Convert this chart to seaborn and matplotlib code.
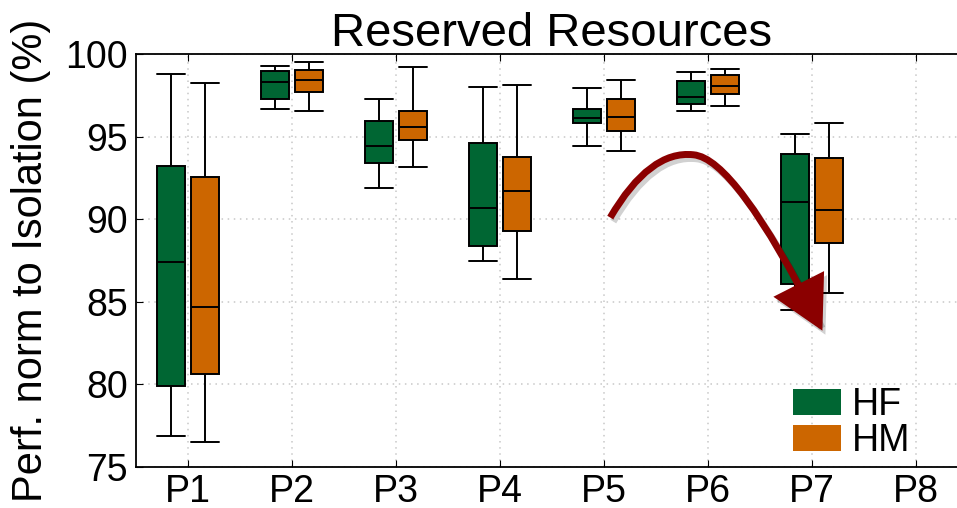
import numpy as np
import pandas as pd
import matplotlib
matplotlib.use("Agg")
import matplotlib.pyplot as plt
import matplotlib.transforms as mtransforms
import seaborn as sns
from matplotlib.patches import Patch, FancyArrowPatch
from matplotlib.path import Path

# five-number summaries: min, q1, median, q3, max
groups = ["P1", "P2", "P3", "P4", "P5", "P6", "P7", "P8"]
hf = [
    [76.9, 79.9, 87.4, 93.2, 98.8],
    [96.7, 97.3, 98.3, 99.0, 99.3],
    [91.9, 93.4, 94.45, 95.95, 97.25],
    [87.5, 88.4, 90.65, 94.6, 98.0],
    [94.45, 95.8, 96.15, 96.65, 97.95],
    [96.55, 96.95, 97.4, 98.35, 98.9],
    [84.5, 86.1, 91.05, 93.95, 95.15],
]
hm = [
    [76.5, 80.6, 84.7, 92.55, 98.25],
    [96.55, 97.7, 98.4, 99.05, 99.5],
    [93.15, 94.8, 95.6, 96.55, 99.2],
    [86.4, 89.3, 91.7, 93.75, 98.1],
    [94.15, 95.35, 96.2, 97.3, 98.45],
    [96.85, 97.6, 98.05, 98.75, 99.1],
    [85.55, 88.55, 90.55, 93.7, 95.8],
]
series = ["HF", "HM"]
colors = {"HF": "#006633", "HM": "#cc6600"}

rows = []
for name, vals in zip(series, [hf, hm]):
    for g, v in zip(groups, vals):
        for x in v:
            rows.append((g, name, x))
df = pd.DataFrame(rows, columns=["group", "config", "perf"])

sns.set_style("ticks")
plt.rcParams["font.family"] = ["Liberation Sans", "DejaVu Sans"]
plt.rcParams.update({"text.color": "black", "axes.labelcolor": "black",
                     "xtick.color": "black", "ytick.color": "black"})

fig = plt.figure(figsize=(9.57, 5.08), dpi=100)
ax = fig.add_axes([136 / 957, 41 / 508, 832 / 957, 413 / 508])

sns.boxplot(data=df, x="group", y="perf", hue="config", order=groups,
            hue_order=series, palette=colors, saturation=1, whis=(0, 100),
            width=0.66, gap=0.2, linecolor="black", linewidth=1.4,
            capwidths=0.264, legend=False, ax=ax)

ax.set_xlim(-0.5, 7.5)
ax.set_ylim(75, 100)
ax.set_yticks(np.arange(75, 101, 5))
ax.set_xlabel("")
ax.set_ylabel("Perf. norm to Isolation (%)", fontsize=30, labelpad=10)
ax.set_title("Reserved Resources", fontsize=34, pad=6)
ax.tick_params(axis="x", labelsize=27, direction="in", top=True, length=5, pad=5)
ax.tick_params(axis="y", labelsize=27, direction="in", length=5, pad=6)
ax.grid(True, linestyle=(0, (1, 3)), color="#c8c8c8", linewidth=1.1)
ax.set_axisbelow(True)
for s in ax.spines.values():
    s.set_linewidth(1.3)
    s.set_color("black")

# curved annotation arrow with a soft drop shadow
verts = [(4.06, 90.1), (4.44, 94.2), (4.86, 93.9), (5.26, 93.7), (6.1, 83.25)]
codes = [Path.MOVETO, Path.CURVE3, Path.CURVE3, Path.CURVE3, Path.CURVE3]
shadow_tr = mtransforms.offset_copy(ax.transData, fig=fig, x=3, y=-4, units="dots")
for tr, col, z in [(shadow_tr, (0, 0, 0, 0.18), 4), (ax.transData, "#8b0000", 5)]:
    arrow = FancyArrowPatch(path=Path(verts, codes),
                            arrowstyle="-|>,head_length=1.2,head_width=0.65",
                            mutation_scale=25, color=col, linewidth=5,
                            joinstyle="miter", capstyle="butt",
                            transform=tr, zorder=z)
    ax.add_patch(arrow)

handles = [Patch(facecolor=colors[s], edgecolor="none", label=s) for s in series]
fig.legend(handles=handles, loc="upper left",
           bbox_to_anchor=(793 / 957, 1 - 387 / 508), frameon=False,
           fontsize=27, handlelength=1.27, handleheight=0.72,
           handletextpad=0.3, labelspacing=0.0, borderpad=0,
           borderaxespad=0)

fig.savefig("out.png", dpi=100)
